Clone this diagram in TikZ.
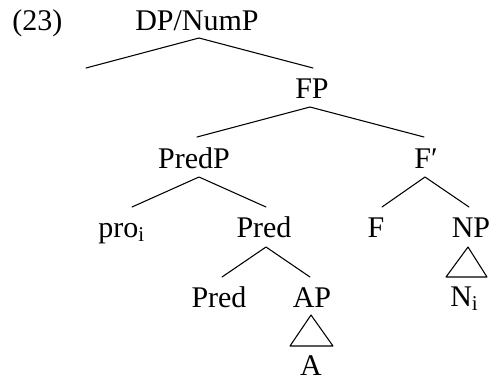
\documentclass[tikz,border=0pt]{standalone}
\usepackage{fontspec}
\setmainfont{Liberation Serif}
\tikzset{
  lbl/.style={anchor=base, inner sep=0pt, font=\fontsize{22.5}{27}\selectfont},
  br/.style={line width=0.8pt, line cap=round, line join=round}
}
\begin{document}
\begin{tikzpicture}[x=0.75pt,y=-0.75pt]
\useasboundingbox (0,0) rectangle (493,379);
% labels
\node[lbl, anchor=base west] (ex) at (12,30) {(23)};
\node[lbl] (dp) at (197,30) {DP/NumP};
\node[lbl] (fp) at (312,98) {FP};
\node[lbl] (predp) at (194,168) {PredP};
\node[lbl] (fbar) at (426,168) {F′};
\node[lbl, anchor=base west] (pro) at (98,237) {pro\textsubscript{i}};
\node[lbl] (pred1) at (264,237) {Pred};
\node[lbl] (f) at (376,237) {F};
\node[lbl] (np) at (471,237) {NP};
\node[lbl] (pred2) at (219,307) {Pred};
\node[lbl] (ap) at (312,307) {AP};
\node[lbl, anchor=base west] (ni) at (450,306) {N\textsubscript{i}};
\node[lbl] (a) at (311,375) {A};
% branch points
\coordinate (dpTop) at (199,38);
\coordinate (dpL) at (86,68);
\coordinate (dpR) at (313,68);
\coordinate (fpTop) at (310,107);
\coordinate (fpL) at (197,137);
\coordinate (fpR) at (424,137);
\coordinate (predpTop) at (199,177);
\coordinate (predpL) at (132,207);
\coordinate (predpR) at (266,207);
\coordinate (fbarTop) at (425,177);
\coordinate (fbarL) at (382,207);
\coordinate (fbarR) at (469,207);
\coordinate (predTop) at (266,247);
\coordinate (predL) at (222,277);
\coordinate (predR) at (310,277);
\coordinate (apTop) at (311,315);
\coordinate (apL) at (290,346);
\coordinate (apR) at (333,346);
\coordinate (npTop) at (468,247);
\coordinate (npL) at (446,277);
\coordinate (npR) at (487,277);
% branches
\draw[br] (dpL) -- (dpTop) -- (dpR);
\draw[br] (fpL) -- (fpTop) -- (fpR);
\draw[br] (predpL) -- (predpTop) -- (predpR);
\draw[br] (fbarL) -- (fbarTop) -- (fbarR);
\draw[br] (predL) -- (predTop) -- (predR);
\draw[br] (apTop) -- (apL) -- (apR) -- cycle;
\draw[br] (npTop) -- (npL) -- (npR) -- cycle;
\end{tikzpicture}
\end{document}
